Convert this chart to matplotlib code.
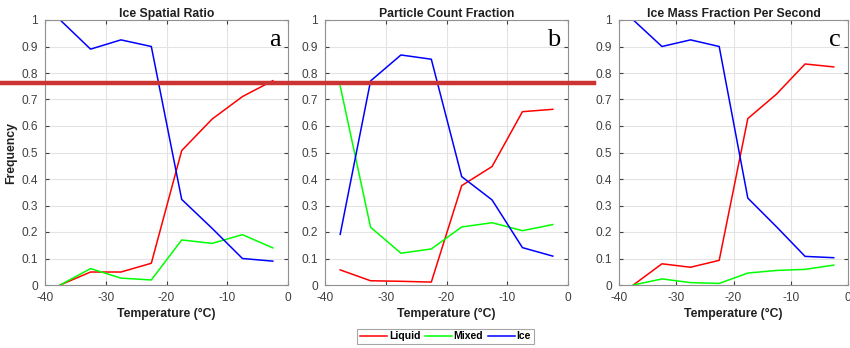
import numpy as np
import matplotlib
matplotlib.use("Agg")
import matplotlib.pyplot as plt
from matplotlib.lines import Line2D

# temperature bin centres (deg C)
temps = [-37.5, -32.5, -27.5, -22.5, -17.5, -12.5, -7.5, -2.5]

titles = ["Ice Spatial Ratio", "Particle Count Fraction", "Ice Mass Fraction Per Second"]
letters = ["a", "b", "c"]

liquid_a = [0.0, 0.049, 0.049, 0.082, 0.507, 0.626, 0.711, 0.771]
mixed_a = [0.0, 0.062, 0.026, 0.019, 0.170, 0.157, 0.190, 0.140]
ice_a = [1.0, 0.890, 0.925, 0.900, 0.323, 0.214, 0.100, 0.090]

liquid_b = [0.057, 0.016, 0.014, 0.011, 0.375, 0.447, 0.654, 0.663]
mixed_b = [0.751, 0.218, 0.120, 0.136, 0.219, 0.235, 0.205, 0.228]
ice_b = [0.191, 0.770, 0.868, 0.852, 0.409, 0.321, 0.141, 0.109]

liquid_c = [0.0, 0.080, 0.067, 0.093, 0.628, 0.720, 0.834, 0.823]
mixed_c = [0.0, 0.023, 0.009, 0.006, 0.045, 0.055, 0.059, 0.075]
ice_c = [1.0, 0.900, 0.925, 0.900, 0.328, 0.220, 0.108, 0.103]

series_names = ["Liquid", "Mixed", "Ice"]
series_colors = ["#ff0000", "#00ff00", "#0000ff"]
panels = [(liquid_a, mixed_a, ice_a), (liquid_b, mixed_b, ice_b), (liquid_c, mixed_c, ice_c)]

# horizontal marker line level
ref_level = 0.762

plt.rcParams['font.family'] = ['Arial', 'Liberation Sans', 'DejaVu Sans']
plt.rcParams['axes.unicode_minus'] = False

fig = plt.figure(figsize=(8.5, 3.48), dpi=100)
lefts = [45 / 850, 325 / 850, 619 / 850]
widths = [243 / 850, 243 / 850, 229 / 850]
bottom = 1 - 285 / 348
height = 265 / 348

axes = []
for i in range(3):
    ax = fig.add_axes([lefts[i], bottom, widths[i], height])
    for vals, name, col in zip(panels[i], series_names, series_colors):
        ax.plot(temps, vals, color=col, lw=1.1, label=name)
    ax.set_xlim(-40, 0)
    ax.set_ylim(0, 1)
    ax.set_xticks([-40, -30, -20, -10, 0])
    ax.set_yticks(np.arange(0, 1.01, 0.1))
    ax.set_yticklabels(["0", "0.1", "0.2", "0.3", "0.4", "0.5", "0.6", "0.7", "0.8", "0.9", "1"])
    ax.grid(True, color="#e3e3e3", lw=0.8)
    ax.set_axisbelow(True)
    ax.tick_params(labelsize=8.6, colors="#404040", length=3, direction="in", top=True, right=True)
    ax.tick_params(axis="y", pad=5)
    ax.tick_params(axis="x", pad=5)
    for s in ax.spines.values():
        s.set_color("#909090")
        s.set_linewidth(0.8)
    ax.set_title(titles[i], fontsize=8.8, fontweight="bold", color="#202020", pad=2)
    ax.set_xlabel("Temperature (°C)", fontsize=8.8, fontweight="bold", color="#202020", labelpad=3)
    ax.text(0.97, 0.965, letters[i], transform=ax.transAxes, ha="right", va="top",
            fontsize=19, family=["Liberation Serif", "DejaVu Serif"])
    axes.append(ax)

axes[0].set_ylabel("Frequency", fontsize=8.8, fontweight="bold", color="#202020")
axes[0].yaxis.set_label_coords(-28 / 243, 0.5)

# red overlay line spanning the first two panels, drawn on top of everything
y_fig = axes[0].transLimits.transform((0, ref_level))[1] * height + bottom
fig.add_artist(Line2D([0, 594 / 850], [y_fig, y_fig], transform=fig.transFigure,
                      color="#cc3333", lw=3.2, zorder=10))

handles, labels = axes[0].get_legend_handles_labels()
leg = fig.legend(handles, labels, loc="center", bbox_to_anchor=(0.524, 0.034), ncol=3,
                 fontsize=7.5, frameon=True, fancybox=False, handlelength=2.6,
                 handletextpad=0.2, columnspacing=0.4, borderpad=0.25, borderaxespad=0)
leg.get_frame().set_edgecolor("#909090")
leg.get_frame().set_linewidth(0.8)
for t in leg.get_texts():
    t.set_fontweight("bold")

fig.savefig("out.png", dpi=100)
